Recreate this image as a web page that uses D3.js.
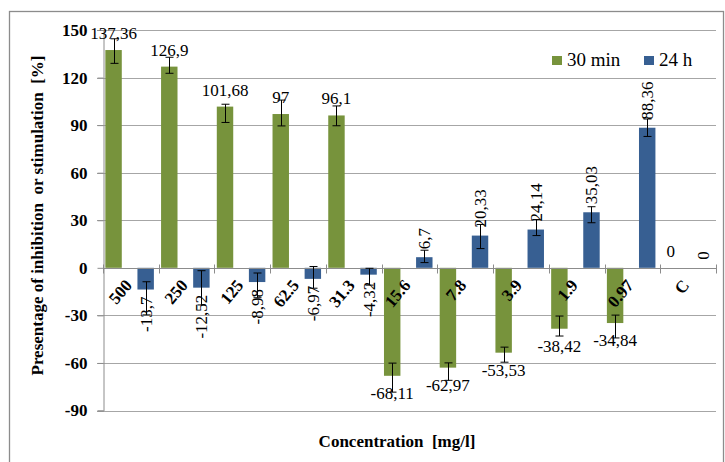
<!DOCTYPE html>
<html><head><meta charset="utf-8">
<script src="https://cdn.jsdelivr.net/npm/d3@7"></script>
<style>
body{margin:0;background:#fff}
svg{display:block}
text{font-family:"Liberation Serif","Times New Roman",serif;fill:#000}
</style>
</head><body>
<svg id="chart" width="725" height="462"></svg>
<script>
const categories = ["500","250","125","62.5","31.3","15.6","7.8","3.9","1.9","0.97","C"];
const seriesNames = ["30 min","24 h"];
const series30min = [137.36,126.9,101.68,97,96.1,-68.11,-62.97,-53.53,-38.42,-34.84,0];
const series24h = [-13.7,-12.52,-8.98,-6.97,-4.32,6.7,20.33,24.14,35.03,88.36,0];
const labels30min = ["137,36","126,9","101,68","97","96,1","-68,11","-62,97","-53,53","-38,42","-34,84","0"];
const labels24h = ["-13,7","-12,52","-8,98","-6,97","-4,32","6,7","20,33","24,14","35,03","88,36","0"];
const err30minPlus  = [7.1,5.9,1.5,8.8,6.0,8.0,3.0,3.5,8.0,5.0,0];
const err30minMinus = [8.4,4.2,10.0,7.5,6.5,10.3,8.0,6.0,4.6,9.4,0];
const err24hPlus    = [4.9,10.7,5.7,7.8,4.0,4.4,7.0,6.3,3.5,5.5,0];
const err24hMinus   = [16.0,10.9,9.9,5.9,6.6,3.4,8.2,3.8,6.6,5.5,0];
const yTicks = [150,120,90,60,30,0,-30,-60,-90];
const yTitle = "Presentage of inhibition  or stimulation  [%]";
const xTitle = "Concentration  [mg/l]";

const colors = {"30 min":"#77933C","24 h":"#375F92"};
const svg = d3.select("#chart");

// chart border
svg.append("rect").attr("x",9.5).attr("y",11.5).attr("width",714).attr("height",460)
  .attr("fill","none").attr("stroke","#8c8c8c").attr("stroke-width",1.3);

const x = d3.scaleBand().domain(categories).range([103,716]).padding(0);
const y = d3.scaleLinear().domain([-90,150]).range([410.5,30]);
const step = x.bandwidth();
const barW = step*0.295;
const offs = {"30 min":step*0.042,"24 h":step*0.618};

// gridlines
svg.append("g").selectAll("line").data(yTicks.filter(d=>d!==0)).join("line")
  .attr("x1",97).attr("x2",716).attr("y1",d=>Math.round(y(d))+0.5).attr("y2",d=>Math.round(y(d))+0.5)
  .attr("stroke","#a6a6a6").attr("stroke-width",1);

// y axis
const yAxis = svg.append("g").attr("transform","translate(103.5,0)")
  .call(d3.axisLeft(y).tickValues(yTicks).tickSize(6).tickFormat(d=>d));
yAxis.select(".domain").attr("stroke","#8c8c8c");
yAxis.selectAll(".tick line").attr("stroke","#8c8c8c");
yAxis.selectAll(".tick text").attr("x",-16).attr("font-size",17).attr("font-weight","bold")
  .attr("font-family","Liberation Serif, serif");

// data
const rows = categories.map((c,i)=>({c,i,
  vals:[
    {s:"30 min",v:series30min[i],lab:labels30min[i],ep:err30minPlus[i],em:err30minMinus[i]},
    {s:"24 h",v:series24h[i],lab:labels24h[i],ep:err24hPlus[i],em:err24hMinus[i]}
  ]}));
const flat = rows.flatMap(r=>r.vals.map(v=>Object.assign({c:r.c},v)));
const cx = d=> x(d.c)+offs[d.s]+barW/2;

svg.append("g").selectAll("rect").data(flat).join("rect")
  .attr("x",d=>x(d.c)+offs[d.s]).attr("width",barW)
  .attr("y",d=>y(Math.max(0,d.v))).attr("height",d=>Math.abs(y(d.v)-y(0)))
  .attr("fill",d=>colors[d.s]);

// x axis at zero
const y0 = Math.round(y(0))+0.5;
svg.append("line").attr("x1",103).attr("x2",716).attr("y1",y0).attr("y2",y0).attr("stroke","#8c8c8c");
svg.append("g").selectAll("line").data(d3.range(categories.length+1)).join("line")
  .attr("x1",(d)=>Math.round(103+d*step)+0.5).attr("x2",(d)=>Math.round(103+d*step)+0.5)
  .attr("y1",y0-4).attr("y2",y0+5).attr("stroke","#8c8c8c");

// error bars
const eb = svg.append("g").attr("stroke","#000").attr("stroke-width",1);
flat.filter(d=>d.ep>0||d.em>0).forEach(d=>{
  const X = Math.round(cx(d))+0.5;
  const yt = y(d.v+d.ep), yb = y(d.v-d.em);
  eb.append("line").attr("x1",X).attr("x2",X).attr("y1",yt).attr("y2",yb);
  eb.append("line").attr("x1",X-4).attr("x2",X+4).attr("y1",yt).attr("y2",yt);
  eb.append("line").attr("x1",X-4).attr("x2",X+4).attr("y1",yb).attr("y2",yb);
});

// category labels
svg.append("g").selectAll("text").data(categories).join("text")
  .attr("transform",d=>`translate(${x(d)+step/2+2},${y(0)+18}) rotate(-50)`)
  .attr("text-anchor","end").attr("font-size",17).attr("font-weight","bold").text(d=>d);

// data labels
const g30 = flat.filter(d=>d.s==="30 min");
svg.append("g").selectAll("text").data(g30).join("text")
  .attr("x",cx).attr("y",d=>d.v>=0? y(d.v)-11 : y(d.v)+23)
  .attr("text-anchor","middle").attr("font-size",17).text(d=>d.lab);
const g24 = flat.filter(d=>d.s==="24 h");
svg.append("g").selectAll("text").data(g24).join("text")
  .attr("transform",d=>`translate(${cx(d)},${d.v>=0? y(d.v)-8 : y(d.v)+7}) rotate(-90)`)
  .attr("text-anchor",d=>d.v>=0?"start":"end").attr("dy","0.35em")
  .attr("font-size",17).text(d=>d.lab);

// legend
const leg = svg.append("g");
const legX = [552,644];
seriesNames.forEach((s,i)=>{
  leg.append("rect").attr("x",legX[i]).attr("y",56).attr("width",10).attr("height",9).attr("fill",colors[s]);
  leg.append("text").attr("x",legX[i]+15).attr("y",65.5).attr("font-size",19).text(s);
});

// titles
svg.append("text").attr("transform","translate(43,215.5) rotate(-90)")
  .attr("text-anchor","middle").attr("font-size",17).attr("font-weight","bold")
  .style("white-space","pre").text(yTitle);
svg.append("text").attr("x",397).attr("y",447).attr("text-anchor","middle")
  .attr("font-size",17).attr("font-weight","bold").style("white-space","pre").text(xTitle);
</script>
</body></html>
